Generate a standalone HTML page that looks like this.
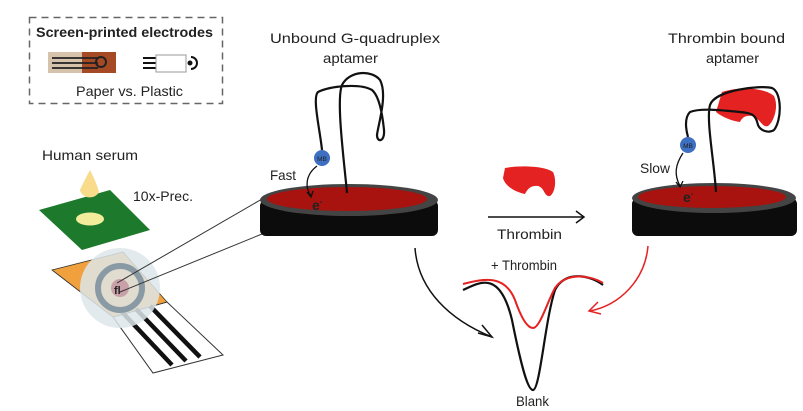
<!DOCTYPE html>
<html><head><style>body{margin:0;background:#fff}svg{display:block}text{font-family:"Liberation Sans",sans-serif;fill:#222}</style></head><body>
<svg width="803" height="411" viewBox="0 0 803 411" xmlns="http://www.w3.org/2000/svg">
<rect x="29.5" y="17.5" width="193" height="86" fill="none" stroke="#666" stroke-width="1.5" stroke-dasharray="7,5"/>
<text x="36" y="37" font-size="14" font-weight="bold" textLength="177" lengthAdjust="spacingAndGlyphs" fill="#111">Screen-printed electrodes</text>
<rect x="48" y="52" width="34" height="21" fill="#d6c3ab"/><rect x="82" y="52" width="34" height="21" fill="#a64a25"/>
<g stroke="#222" stroke-width="1.8"><line x1="52" y1="58" x2="98" y2="58"/><line x1="52" y1="63" x2="98" y2="63"/><line x1="52" y1="68" x2="98" y2="68"/></g>
<circle cx="101" cy="62" r="5" fill="none" stroke="#222" stroke-width="2"/>
<g stroke="#111" stroke-width="2"><line x1="143" y1="58" x2="156" y2="58"/><line x1="143" y1="63" x2="156" y2="63"/><line x1="143" y1="68" x2="156" y2="68"/></g>
<rect x="156" y="55" width="30" height="17" fill="#fff" stroke="#999"/>
<circle cx="190" cy="63" r="2.5" fill="#111"/><path d="M191 57 A6 6 0 0 1 191 69" fill="none" stroke="#111" stroke-width="2"/>
<text x="76" y="96" font-size="14" textLength="107" lengthAdjust="spacingAndGlyphs">Paper vs. Plastic</text>
<text x="42" y="160" font-size="14" textLength="96" lengthAdjust="spacingAndGlyphs">Human serum</text>
<text x="133" y="201" font-size="14" textLength="60" lengthAdjust="spacingAndGlyphs">10x-Prec.</text>
<polygon points="39,210 110,190 150,230 82,250" fill="#1d7a2c"/>
<ellipse cx="90" cy="219" rx="14" ry="6.5" fill="#f3ec9a"/>
<path d="M90 170 Q82 185 80 190 A10 9 0 0 0 99 192 Q97 184 90 170Z" fill="#f8dc8c"/>
<polygon points="113,317 167,302 223,355 153,373" fill="#fff" stroke="#333"/>
<polygon points="52,270 123,252 167,302 113,317" fill="#f0a03c" stroke="#333" stroke-width="0.8"/>
<g stroke="#111" stroke-width="4.5"><line x1="122" y1="312" x2="172" y2="365"/><line x1="136" y1="309" x2="186" y2="361"/><line x1="150" y1="306" x2="200" y2="357"/></g>
<circle cx="120" cy="288" r="40" fill="#dde6ea" opacity="0.85"/>
<circle cx="120" cy="288" r="22" fill="none" stroke="#8a9aa4" stroke-width="6"/>
<circle cx="120" cy="288" r="9" fill="#c9a0a8"/>
<text x="114" y="294" font-size="11" font-weight="bold" fill="#2f5c9a">fl</text>
<line x1="117" y1="283" x2="262" y2="199" stroke="#333"/><line x1="120" y1="292" x2="262" y2="234" stroke="#333"/>
<rect x="260" y="200" width="178" height="36" rx="6" fill="#0c0c0c"/>
<ellipse cx="349" cy="200" rx="89" ry="16" fill="#444"/>
<ellipse cx="347" cy="199" rx="80" ry="12" fill="#a8130f"/>
<g fill="none" stroke="#111" stroke-width="2.2">
<path d="M347 193 C344 160 336 100 342 85 C350 70 372 70 380 80 C388 95 378 125 377 135 C377 143 385 142 384 130 C382 110 378 95 372 90 C360 83 330 86 318 92 C312 97 320 130 322 150"/>
</g>
<circle cx="322" cy="158" r="8" fill="#3d6fc2"/><text x="322" y="161" font-size="6.5" fill="#fff" text-anchor="middle">MB</text>
<path d="M317 166 C305 175 305 188 311 196" fill="none" stroke="#111" stroke-width="1.3"/><path d="M307 192 L311 197 L313 191" fill="none" stroke="#111" stroke-width="1.3"/>
<text x="270" y="180" font-size="14" textLength="26" lengthAdjust="spacingAndGlyphs">Fast</text>
<text x="312" y="210" font-size="14" font-weight="bold" fill="#111">e<tspan font-size="8" dy="-6">-</tspan></text>
<text x="270" y="43" font-size="14" textLength="170" lengthAdjust="spacingAndGlyphs">Unbound G-quadruplex</text>
<text x="323" y="63" font-size="14" textLength="55" lengthAdjust="spacingAndGlyphs">aptamer</text>
<rect x="632" y="198" width="165" height="38" rx="6" fill="#0c0c0c"/>
<ellipse cx="714" cy="198" rx="82" ry="15" fill="#444"/>
<ellipse cx="712" cy="197" rx="74" ry="11" fill="#a8130f"/>
<path d="M722 92 C740 86 765 88 774 96 C779 106 774 122 768 126 C762 128 760 118 752 116 C745 115 742 118 740 122 C732 121 722 117 716 112 Z" fill="#e52222"/>
<g fill="none" stroke="#111" stroke-width="2.2">
<path d="M716 192 C714 160 706 120 710 105 C715 90 760 85 772 88 C782 92 782 120 774 130 C768 134 760 130 758 125 C756 118 756 113 740 112 C720 110 700 108 690 112 C684 118 686 130 688 137"/>
</g>
<circle cx="688" cy="145" r="8" fill="#3d6fc2"/><text x="688" y="148" font-size="6.5" fill="#fff" text-anchor="middle">MB</text>
<path d="M683 153 C675 165 674 175 680 186" fill="none" stroke="#111" stroke-width="1.3"/><path d="M676 182 L680 187 L683 181" fill="none" stroke="#111" stroke-width="1.3"/>
<text x="640" y="173" font-size="14" textLength="30" lengthAdjust="spacingAndGlyphs">Slow</text>
<text x="683" y="202" font-size="14" font-weight="bold" fill="#111">e<tspan font-size="8" dy="-6">-</tspan></text>
<text x="668" y="43" font-size="14" textLength="117" lengthAdjust="spacingAndGlyphs">Thrombin bound</text>
<text x="706" y="63" font-size="14" textLength="53" lengthAdjust="spacingAndGlyphs">aptamer</text>
<path d="M505 168 C520 165 545 166 553 172 C557 180 555 193 550 196 C544 197 545 188 538 186 C530 185 527 190 525 194 C515 192 505 186 503 178Z" fill="#e52222"/>
<line x1="488" y1="217" x2="583" y2="217" stroke="#111" stroke-width="1.5"/><path d="M576 211 L584 217 L576 223" fill="none" stroke="#111" stroke-width="1.5"/>
<text x="497" y="239" font-size="14" textLength="65" lengthAdjust="spacingAndGlyphs">Thrombin</text>
<text x="491" y="270" font-size="14" fill="#e52222" textLength="66" lengthAdjust="spacingAndGlyphs">+ Thrombin</text>
<path d="M463 290 C480 282 500 270 512 320 C522 370 528 390 533 390 C540 390 545 320 555 290 C565 270 590 275 603 285" fill="none" stroke="#111" stroke-width="2.2"/>
<path d="M463 284 C485 278 505 275 515 300 C522 320 528 328 533 328 C540 328 548 300 555 288 C566 272 590 275 603 283" fill="none" stroke="#e52222" stroke-width="2"/>
<text x="516" y="406" font-size="14" textLength="33" lengthAdjust="spacingAndGlyphs">Blank</text>
<path d="M415 248 C418 290 450 320 492 337" fill="none" stroke="#111" stroke-width="1.5"/><path d="M478 333 L492 337 L482 325" fill="none" stroke="#111" stroke-width="1.5"/>
<path d="M648 246 C645 280 620 305 590 311" fill="none" stroke="#e52222" stroke-width="1.5"/><path d="M598 302 L589 311 L601 314" fill="none" stroke="#e52222" stroke-width="1.5"/>
</svg></body></html>
